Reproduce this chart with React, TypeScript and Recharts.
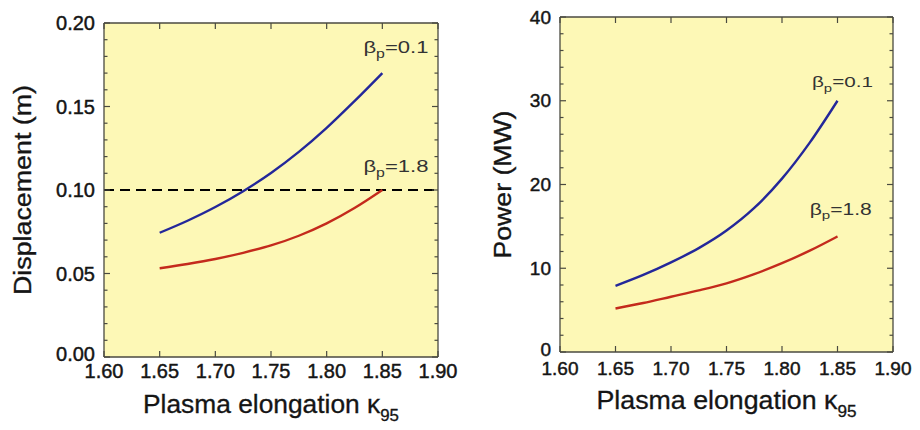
import React from 'react';
import { LineChart, Line, XAxis, YAxis, ReferenceArea, ReferenceLine, ReferenceDot } from 'recharts';

// ---- data ----
const kappa = [1.65, 1.675, 1.7, 1.725, 1.75, 1.775, 1.8, 1.825, 1.85];
const dispLowBeta = [0.0744, 0.0816, 0.0898, 0.0993, 0.1102, 0.1228, 0.1372, 0.1532, 0.17];
const dispHighBeta = [0.0531, 0.0557, 0.0587, 0.0624, 0.0668, 0.0726, 0.08, 0.0892, 0.1];
const powerLowBeta = [7.9, 9.2, 10.7, 12.4, 14.5, 17.2, 20.7, 25.0, 30.0];
const powerHighBeta = [5.2, 5.85, 6.6, 7.35, 8.2, 9.3, 10.6, 12.1, 13.8];

const kappaTicks = [1.6, 1.65, 1.7, 1.75, 1.8, 1.85, 1.9];
const dispTicks = [0, 0.01, 0.02, 0.03, 0.04, 0.05, 0.06, 0.07, 0.08, 0.09, 0.1, 0.11, 0.12, 0.13, 0.14, 0.15, 0.16, 0.17, 0.18, 0.19, 0.2];
const dispMajor = [0, 0.05, 0.1, 0.15, 0.2];
const powerTicks = [0, 2, 4, 6, 8, 10, 12, 14, 16, 18, 20, 22, 24, 26, 28, 30, 32, 34, 36, 38, 40];
const powerMajor = [0, 10, 20, 30, 40];
const displacementLimit = 0.1;

const dispData = kappa.map((k, i) => ({ kappa: k, low: dispLowBeta[i], high: dispHighBeta[i] }));
const powerData = kappa.map((k, i) => ({ kappa: k, low: powerLowBeta[i], high: powerHighBeta[i] }));

// ---- style ----
const FONT = '"Liberation Sans", Arial, Helvetica, sans-serif';
const BG = '#fdf8b6';
const FRAME = '#4a4a40';
const BLUE = '#23279a';
const RED = '#c42a1c';
const TEXT = '#151515';

const isMajor = (v: number, majors: number[]) => majors.some((m) => Math.abs(m - v) < 1e-9);

function makeTick(side: string, majors: number[], fmt: ((v: number) => string) | null, fontSize: number, gap: number) {
  return (props: any) => {
    const { x, y, payload } = props;
    const v = payload.value;
    const major = isMajor(v, majors);
    const len = major ? 6 : 3.5;
    let line: any = null;
    let label: any = null;
    if (side === 'left') {
      line = <line x1={x} y1={y} x2={x + len} y2={y} stroke={FRAME} strokeWidth={1.2} />;
      if (major && fmt)
        label = (
          <text
            x={x - gap}
            y={Math.abs(v) < 1e-9 ? y - 3 : y}
            textAnchor="end"
            dominantBaseline="central"
            fontSize={fontSize}
            fontFamily={FONT}
            fill={TEXT}
            stroke={TEXT}
            strokeWidth={0.45}
          >
            {fmt(v)}
          </text>
        );
    } else if (side === 'right') {
      line = <line x1={x} y1={y} x2={x - len} y2={y} stroke={FRAME} strokeWidth={1.2} />;
    } else if (side === 'bottom') {
      line = <line x1={x} y1={y} x2={x} y2={y - len} stroke={FRAME} strokeWidth={1.2} />;
      if (major && fmt)
        label = (
          <text
            x={x}
            y={y + gap}
            textAnchor="middle"
            dominantBaseline="central"
            fontSize={fontSize}
            fontFamily={FONT}
            fill={TEXT}
            stroke={TEXT}
            strokeWidth={0.45}
          >
            {fmt(v)}
          </text>
        );
    } else {
      line = <line x1={x} y1={y} x2={x} y2={y + len} stroke={FRAME} strokeWidth={1.2} />;
    }
    return (
      <g>
        {line}
        {label}
      </g>
    );
  };
}

function betaLabel(rest: string, fontSize: number, len: number) {
  return (props: any) => {
    const vb = props.viewBox || {};
    const x = vb.x ?? 0;
    const y = vb.y ?? 0;
    return (
      <text x={x} y={y} fontSize={fontSize} fontFamily={FONT} fill="#333" textLength={len} lengthAdjust="spacingAndGlyphs">
        β
        <tspan dy={fontSize * 0.3} fontSize={fontSize * 0.72}>p</tspan>
        <tspan dy={-fontSize * 0.3}>{rest}</tspan>
      </text>
    );
  };
}

function yTitle(text: string, cx: number, len: number) {
  return (props: any) => {
    const vb = props.viewBox || {};
    const cy = (vb.y ?? 0) + (vb.height ?? 0) / 2;
    return (
      <text
        x={cx}
        y={cy}
        transform={`rotate(-90, ${cx}, ${cy})`}
        textAnchor="middle"
        dominantBaseline="central"
        fontSize={23}
        fontFamily={FONT}
        fill={TEXT}
        stroke={TEXT}
        strokeWidth={0.35}
        textLength={len}
        lengthAdjust="spacingAndGlyphs"
      >
        {text}
      </text>
    );
  };
}

function xTitle(dyBase: number, len: number) {
  return (props: any) => {
    const vb = props.viewBox || {};
    const cx = (vb.x ?? 0) + (vb.width ?? 0) / 2;
    const y = (vb.y ?? 0) + dyBase;
    return (
      <text
        x={cx}
        y={y}
        textAnchor="middle"
        fontSize={25}
        fontFamily={FONT}
        fill={TEXT}
        stroke={TEXT}
        strokeWidth={0.3}
        textLength={len}
        lengthAdjust="spacingAndGlyphs"
      >
        Plasma elongation κ
        <tspan dy={8} fontSize={16}>95</tspan>
      </text>
    );
  };
}

const fmt2 = (v: number) => v.toFixed(2);
const fmt0 = (v: number) => String(Math.round(v));

function Panel(props: {
  data: any[];
  yDomain: [number, number];
  yTicks: number[];
  yMajor: number[];
  yFmt: (v: number) => string;
  yWidth: number;
  rightWidth: number;
  topHeight: number;
  bottomHeight: number;
  yTitleText: string;
  yTitleX: number;
  yTitleLen: number;
  xTitleLen: number;
  xTitleDy: number;
  tickFont: number;
  xTickGap: number;
  labels: { x: number; y: number; text: string; size: number; len: number }[];
  limit?: number;
}) {
  const axisLine = { stroke: FRAME, strokeWidth: 1.3 };
  return (
    <LineChart width={460} height={430} data={props.data} margin={{ top: 0, right: 0, bottom: 0, left: 0 }}>
      <ReferenceArea x1={1.6} x2={1.9} y1={props.yDomain[0]} y2={props.yDomain[1]} fill={BG} fillOpacity={1} stroke="none" />
      <XAxis
        dataKey="kappa"
        type="number"
        domain={[1.6, 1.9]}
        allowDataOverflow
        ticks={kappaTicks}
        interval={0}
        height={props.bottomHeight}
        tickSize={0}
        tickMargin={0}
        axisLine={axisLine}
        tickLine={false}
        tick={makeTick('bottom', kappaTicks, fmt2, props.tickFont, props.xTickGap)}
        label={{ content: xTitle(props.xTitleDy, props.xTitleLen) }}
      />
      <XAxis
        xAxisId="top"
        orientation="top"
        dataKey="kappa"
        type="number"
        domain={[1.6, 1.9]}
        allowDataOverflow
        ticks={kappaTicks}
        interval={0}
        height={props.topHeight}
        tickSize={0}
        tickMargin={0}
        axisLine={axisLine}
        tickLine={false}
        tick={makeTick('top', kappaTicks, null, 18, 0)}
      />
      <YAxis
        type="number"
        domain={props.yDomain}
        allowDataOverflow
        ticks={props.yTicks}
        interval={0}
        width={props.yWidth}
        tickSize={0}
        tickMargin={0}
        axisLine={axisLine}
        tickLine={false}
        tick={makeTick('left', props.yMajor, props.yFmt, props.tickFont, 9)}
        label={{ content: yTitle(props.yTitleText, props.yTitleX, props.yTitleLen) }}
      />
      <YAxis
        yAxisId="right"
        orientation="right"
        type="number"
        domain={props.yDomain}
        allowDataOverflow
        ticks={props.yTicks}
        interval={0}
        width={props.rightWidth}
        tickSize={0}
        tickMargin={0}
        axisLine={axisLine}
        tickLine={false}
        tick={makeTick('right', props.yMajor, null, 18, 0)}
      />
      {props.limit !== undefined && (
        <ReferenceLine y={props.limit} stroke="#000" strokeWidth={2.2} strokeDasharray="10 6" />
      )}
      <Line dataKey="low" type="monotone" stroke={BLUE} strokeWidth={2.4} dot={false} isAnimationActive={false} />
      <Line dataKey="high" type="monotone" stroke={RED} strokeWidth={2.4} dot={false} isAnimationActive={false} />
      {props.labels.map((l, i) => (
        <ReferenceDot
          key={i}
          x={l.x}
          y={l.y}
          r={0}
          fill="none"
          stroke="none"
          label={{ content: betaLabel(l.text, l.size, l.len) }}
        />
      ))}
    </LineChart>
  );
}

export default function App() {
  return (
    <div style={{ position: 'absolute', left: 0, top: 0, width: 920, height: 430, display: 'flex', background: '#fff' }}>
      <Panel
        data={dispData}
        yDomain={[0, 0.2]}
        yTicks={dispTicks}
        yMajor={dispMajor}
        yFmt={fmt2}
        yWidth={104}
        rightWidth={22}
        topHeight={23}
        bottomHeight={73}
        yTitleText="Displacement (m)"
        yTitleX={23}
        yTitleLen={210}
        xTitleLen={256}
        xTitleDy={56}
        tickFont={20}
        xTickGap={14}
        limit={displacementLimit}
        labels={[
          { x: 1.833, y: 0.182, text: '=0.1', size: 17, len: 65 },
          { x: 1.833, y: 0.1108, text: '=1.8', size: 17, len: 65 },
        ]}
      />
      <Panel
        data={powerData}
        yDomain={[0, 40]}
        yTicks={powerTicks}
        yMajor={powerMajor}
        yFmt={fmt0}
        yWidth={100}
        rightWidth={27}
        topHeight={17}
        bottomHeight={78}
        yTitleText="Power (MW)"
        yTitleX={43}
        yTitleLen={148}
        xTitleLen={260}
        xTitleDy={57}
        tickFont={19}
        xTickGap={16}
        labels={[
          { x: 1.827, y: 31.6, text: '=0.1', size: 15, len: 61 },
          { x: 1.825, y: 16.4, text: '=1.8', size: 16, len: 62 },
        ]}
      />
    </div>
  );
}
